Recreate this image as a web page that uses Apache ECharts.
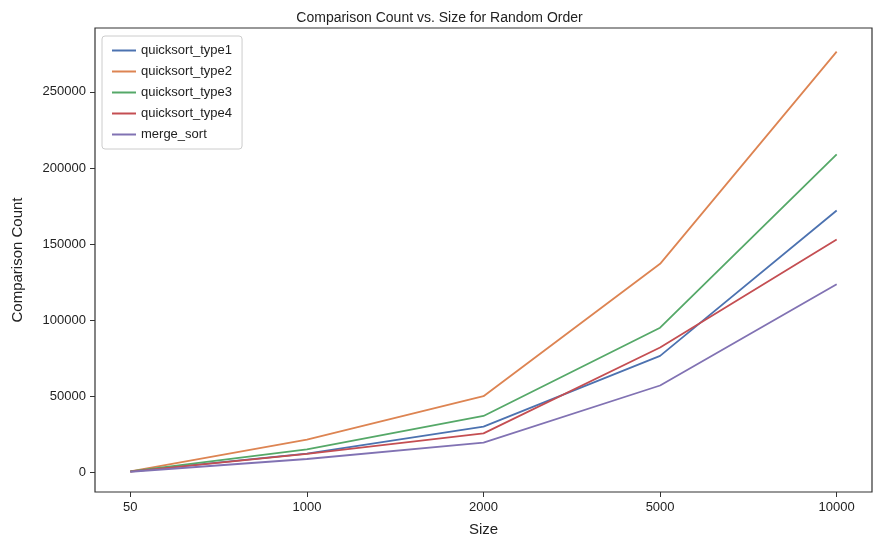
<!DOCTYPE html>
<html>
<head>
<meta charset="utf-8">
<script src="https://cdn.jsdelivr.net/npm/echarts@6/dist/echarts.min.js"></script>
<style>html,body{margin:0;background:#fff}#main{width:879px;height:550px}</style>
</head>
<body>
<div id="main"></div>
<script>
var sizes = ['50', '1000', '2000', '5000', '10000'];
var type1 = [500, 12200, 30000, 76500, 172000];
var type2 = [600, 21500, 50000, 137000, 276500];
var type3 = [500, 15000, 37000, 95000, 209000];
var type4 = [400, 12000, 25500, 82000, 153000];
var merge = [300, 8700, 19500, 57000, 123500];
var yTicks = [0, 50000, 100000, 150000, 200000, 250000];

function pts(arr) {
    return arr.map(function(v, i) { return [i, v]; });
}
var names = ['quicksort_type1', 'quicksort_type2', 'quicksort_type3', 'quicksort_type4', 'merge_sort'];
var all = [type1, type2, type3, type4, merge];
var colors = ['#4c72b0', '#dd8452', '#55a868', '#c44e52', '#8172b3'];

var chart = echarts.init(document.getElementById('main'));
chart.setOption({
    color: colors,
    animation: false,
    textStyle: { fontFamily: 'Liberation Sans' },
    title: {
        text: 'Comparison Count vs. Size for Random Order',
        left: 'center', top: 6,
        textStyle: { fontSize: 14, fontWeight: 'normal', color: '#222' }
    },
    legend: {
        orient: 'vertical', left: 102, top: 36,
        itemWidth: 24, itemHeight: 2, itemGap: 8,
        icon: 'rect',
        borderColor: '#ccc', borderWidth: 1, borderRadius: 3, padding: [8, 10],
        textStyle: { fontSize: 13, color: '#222' },
        data: names
    },
    grid: {
        left: 95, right: 7, top: 28, bottom: 58,
        show: true, borderColor: '#333', borderWidth: 1.2
    },
    xAxis: {
        type: 'value', min: -0.2, max: 4.2,
        name: 'Size', nameLocation: 'middle', nameGap: 30,
        nameTextStyle: { fontSize: 15, color: '#222' },
        splitLine: { show: false },
        axisLine: { show: false, onZero: false },
        axisTick: { show: true, customValues: [0, 1, 2, 3, 4], length: 5, lineStyle: { color: '#333' } },
        axisLabel: {
            customValues: [0, 1, 2, 3, 4], fontSize: 13, color: '#222', margin: 9,
            formatter: function(v) { return sizes[Math.round(v)]; }
        }
    },
    yAxis: {
        type: 'value', min: -13000, max: 292000,
        name: 'Comparison Count', nameLocation: 'middle', nameGap: 70,
        nameTextStyle: { fontSize: 15, color: '#222' },
        splitLine: { show: false },
        axisLine: { show: false, onZero: false },
        axisTick: { show: true, customValues: yTicks, length: 5, lineStyle: { color: '#333' } },
        axisLabel: {
            customValues: yTicks, fontSize: 13, color: '#222', margin: 9,
            formatter: function(v) { return String(v); }
        }
    },
    series: names.map(function(n, i) {
        return {
            name: n, type: 'line', data: pts(all[i]),
            showSymbol: false, lineStyle: { width: 1.8 }
        };
    })
});
</script>
</body>
</html>
